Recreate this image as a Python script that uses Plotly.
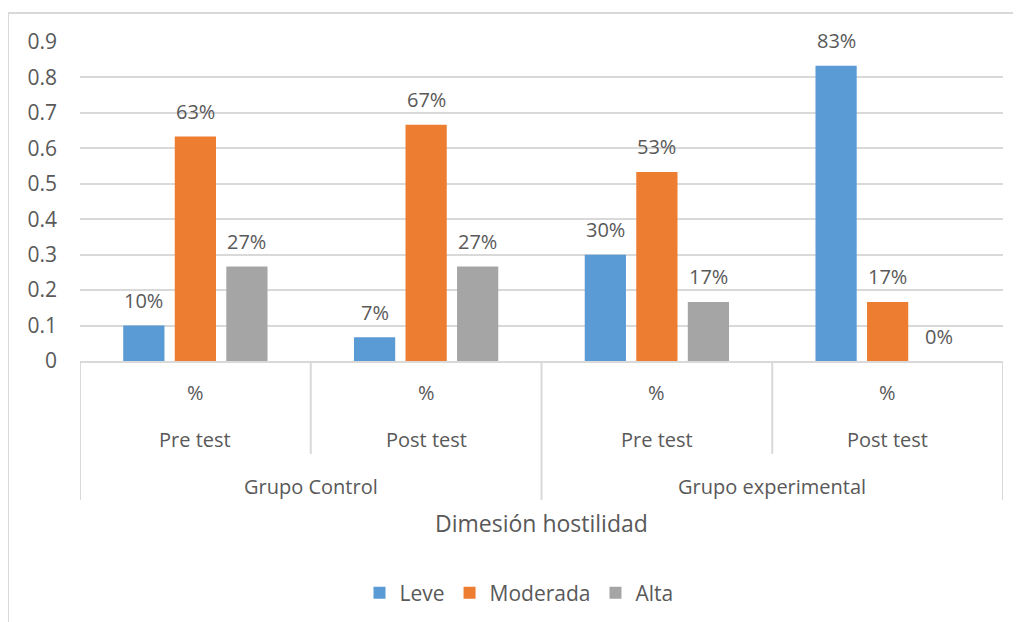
import plotly.graph_objects as go

# ---- data ----
groups = ["Grupo Control", "Grupo experimental"]
tests = ["Pre test", "Post test", "Pre test", "Post test"]
unit_labels = ["%", "%", "%", "%"]
series_names = ["Leve", "Moderada", "Alta"]
leve = [0.10, 0.0667, 0.30, 0.8333]
moderada = [0.6333, 0.6667, 0.5333, 0.1667]
alta = [0.2667, 0.2667, 0.1667, 0.0]
colors = ["#5B9BD5", "#ED7D31", "#A5A5A5"]
y_ticks = [0, 0.1, 0.2, 0.3, 0.4, 0.5, 0.6, 0.7, 0.8, 0.9]
axis_title = "Dimesión hostilidad"

# ---- layout geometry (target pixel positions in the screenshot) ----
W, H = 1021, 622
OFF = 8  # page body margin
X0, X1, Y0, Y1 = 80, 1003, 42, 361  # plot area in screenshot pixels
L = X0 - OFF
R = W - (X1 - OFF)
T = Y0 - OFF
B = H - (Y1 - OFF)
plot_h = Y1 - Y0
plot_w = X1 - X0
FONT = "Open Sans"
TXT = "#595959"
GRID = "#D9D9D9"
bargap = 0.33

def py(p):
    return (Y1 - p) / plot_h

def px(p):
    return (p - X0) / plot_w

x_idx = list(range(len(tests)))
fig = go.Figure()
all_series = [leve, moderada, alta]
for name, vals, col in zip(series_names, all_series, colors):
    fig.add_trace(go.Bar(x=x_idx, y=vals, name=name, marker_color=col,
                         marker_line_width=0))

annotations = []
slot = (1 - bargap) / len(all_series)
for j, vals in enumerate(all_series):
    for i, v in enumerate(vals):
        annotations.append(dict(x=i + (j - 1) * slot, y=v, xref="x", yref="y",
                                text=f"{v*100:.0f}%", showarrow=False,
                                yanchor="middle", yshift=25,
                                font=dict(family=FONT, size=20, color=TXT)))

for i in range(len(tests)):
    annotations.append(dict(x=i, y=py(392), xref="x", yref="paper", text=unit_labels[i],
                            showarrow=False, yanchor="middle",
                            font=dict(family=FONT, size=20, color=TXT)))
    annotations.append(dict(x=i, y=py(439), xref="x", yref="paper", text=tests[i],
                            showarrow=False, yanchor="middle",
                            font=dict(family=FONT, size=20, color=TXT)))
for g, name in enumerate(groups):
    annotations.append(dict(x=2 * g + 0.5, y=py(486), xref="x", yref="paper", text=name,
                            showarrow=False, yanchor="middle",
                            font=dict(family=FONT, size=20, color=TXT)))
annotations.append(dict(x=1.5, y=py(523), xref="x", yref="paper", text=axis_title,
                        showarrow=False, yanchor="middle",
                        font=dict(family=FONT, size=23, color=TXT)))

shapes = []
for k in range(len(tests) + 1):
    bottom = 500 if k % 2 == 0 else 454
    shapes.append(dict(type="line", xref="x", yref="paper", x0=k - 0.5, x1=k - 0.5,
                       y0=0, y1=py(bottom), line=dict(color=GRID, width=2)))
# chart frame (left + top border)
shapes.append(dict(type="line", xref="paper", yref="paper", x0=px(8), x1=px(8),
                   y0=py(13), y1=py(H + 10), line=dict(color=GRID, width=2)))
shapes.append(dict(type="line", xref="paper", yref="paper", x0=px(8), x1=px(W + 10),
                   y0=py(13), y1=py(13), line=dict(color=GRID, width=2)))

fig.update_layout(
    width=W, height=H,
    margin=dict(l=L, r=R, t=T, b=B),
    paper_bgcolor="white", plot_bgcolor="white",
    barmode="group", bargap=bargap, bargroupgap=0.2,
    font=dict(family=FONT, color=TXT, size=20),
    xaxis=dict(range=[-0.5, len(tests) - 0.5], showticklabels=False, showgrid=False,
               zeroline=False, showline=True, linecolor=GRID, linewidth=2,
               ticks=""),
    yaxis=dict(range=[0, 0.9], tickvals=y_ticks,
               ticktext=[("0" if t == 0 else f"{t:.1f}") for t in y_ticks],
               showgrid=True, gridcolor=GRID, gridwidth=2, zeroline=False,
               showline=False, ticks="", ticklabelstandoff=22,
               tickfont=dict(family=FONT, size=21, color=TXT)),
    showlegend=True,
    legend=dict(orientation="h", x=px(519), xanchor="center", y=py(593), yanchor="middle",
                font=dict(family=FONT, size=21, color=TXT), itemwidth=30,
                traceorder="normal"),
    annotations=annotations, shapes=shapes,
)

fig.write_html("out.html")
